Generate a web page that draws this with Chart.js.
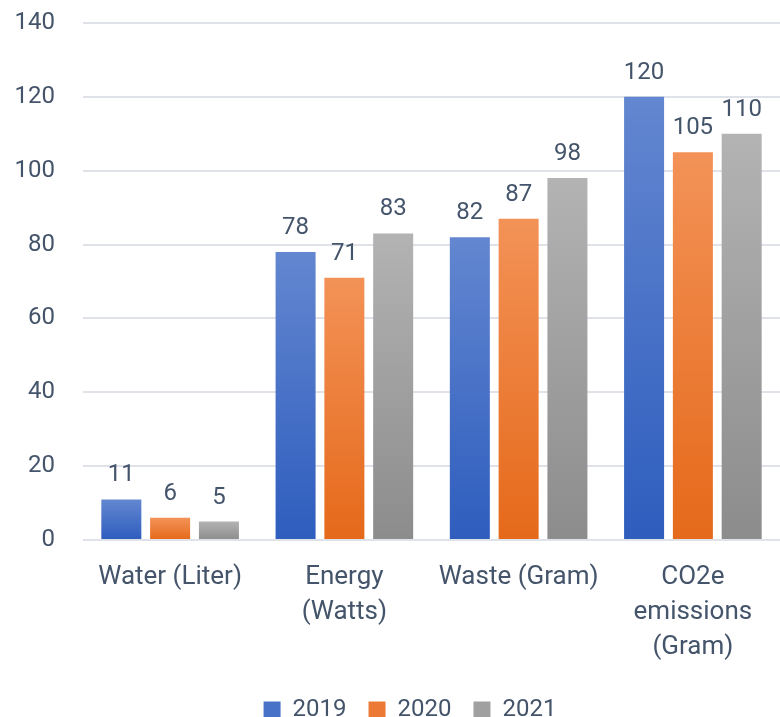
<!DOCTYPE html>
<html>
<head>
<meta charset="utf-8">
<script src="https://cdn.jsdelivr.net/npm/chart.js@4.4.0/dist/chart.umd.min.js"></script>
<style>
  html, body { margin: 0; padding: 0; background: #fff; }
  #wrap { width: 780px; height: 717px; }
</style>
</head>
<body>
<div id="wrap"><canvas id="chart"></canvas></div>
<script>
// data
const categories = ['Water (Liter)', ['Energy', '(Watts)'], 'Waste (Gram)', ['CO2e', 'emissions', '(Gram)']];
const years = ['2019', '2020', '2021'];
const values2019 = [11, 78, 82, 120];
const values2020 = [6, 71, 87, 105];
const values2021 = [5, 83, 98, 110];
const yTicks = [0, 20, 40, 60, 80, 100, 120, 140];

// couleurs (haut clair -> bas foncé)
const palette = [
    ['#6387d0', '#2e5dbe'],
    ['#f39257', '#e5691a'],
    ['#b3b3b3', '#8c8c8c']
];
const legendColors = ['#4872c8', '#ec7a36', '#a0a0a0'];

const textColor = '#44546a';
const fontFamily = "Roboto, sans-serif";

function barGradient(context) {
    const chart = context.chart;
    const cols = palette[context.datasetIndex];
    const yScale = chart.scales.y;
    if (!yScale || context.parsed === undefined) return cols[1];
    const top = yScale.getPixelForValue(context.parsed.y);
    const base = yScale.getPixelForValue(0);
    if (!isFinite(top) || !isFinite(base) || top === base) return cols[1];
    const g = chart.ctx.createLinearGradient(0, top, 0, base);
    g.addColorStop(0, cols[0]);
    g.addColorStop(1, cols[1]);
    return g;
}

// étiquettes au-dessus des barres
const valueLabels = {
    id: 'valueLabels',
    afterLayout(chart) {
        // décale la légende un peu à droite comme dans l'original
        if (chart.legend) {
            chart.legend.left += 20;
            chart.legend.right += 20;
        }
    },
    afterDatasetsDraw(chart) {
        const ctx = chart.ctx;
        ctx.save();
        ctx.font = '24px ' + fontFamily;
        ctx.fillStyle = textColor;
        ctx.textAlign = 'center';
        ctx.textBaseline = 'alphabetic';
        chart.data.datasets.forEach((ds, i) => {
            chart.getDatasetMeta(i).data.forEach((bar, j) => {
                ctx.fillText(String(ds.data[j]), bar.x, bar.y - 18);
            });
        });
        ctx.restore();
    }
};

const series = [values2019, values2020, values2021];

new Chart(document.getElementById('chart'), {
    type: 'bar',
    data: {
        labels: categories,
        datasets: series.map((vals, i) => ({
            label: years[i],
            data: vals,
            backgroundColor: barGradient,
            borderWidth: 0,
            categoryPercentage: 0.84,
            barPercentage: 0.82
        }))
    },
    options: {
        responsive: true,
        maintainAspectRatio: false,
        animation: false,
        devicePixelRatio: 1,
        layout: { padding: { left: 0, right: 0, top: 23, bottom: -15 } },
        scales: {
            y: {
                min: 0,
                max: 140,
                afterBuildTicks(axis) { axis.ticks = yTicks.map(v => ({ value: v })); },
                afterFit(axis) {
                    axis.width = 83;
                    axis.paddingTop = 0;
                    axis.paddingBottom = 0;
                },
                border: { display: false },
                grid: { color: '#dfe2e8', lineWidth: 2, drawTicks: false },
                ticks: {
                    color: textColor,
                    padding: 28,
                    font: { family: fontFamily, size: 24 }
                }
            },
            x: {
                border: { display: false },
                grid: { display: false, drawTicks: false },
                afterFit(axis) { axis.height = 136; },
                ticks: {
                    color: textColor,
                    padding: 20,
                    maxRotation: 0,
                    font: { family: fontFamily, size: 26, lineHeight: '35px' }
                }
            }
        },
        plugins: {
            legend: {
                position: 'bottom',
                labels: {
                    color: textColor,
                    boxWidth: 17,
                    boxHeight: 17,
                    padding: 22,
                    font: { family: fontFamily, size: 24 },
                    generateLabels(chart) {
                        return years.map((y, i) => ({
                            text: y,
                            fillStyle: legendColors[i],
                            strokeStyle: legendColors[i],
                            lineWidth: 0,
                            fontColor: textColor,
                            datasetIndex: i,
                            hidden: false
                        }));
                    }
                }
            },
            tooltip: { enabled: false }
        }
    },
    plugins: [valueLabels]
});
</script>
</body>
</html>
